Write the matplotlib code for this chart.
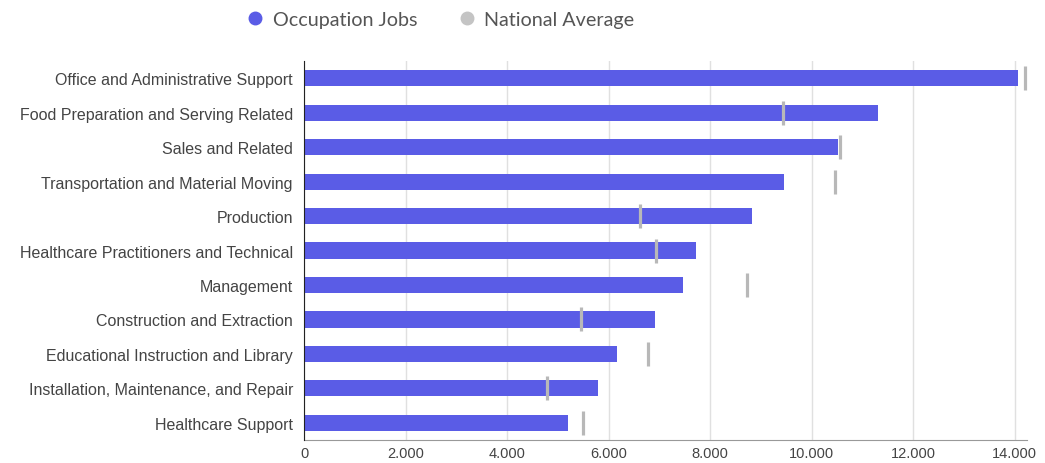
import matplotlib.pyplot as plt
from matplotlib.ticker import FuncFormatter
from matplotlib.lines import Line2D

categories = [
    "Office and Administrative Support",
    "Food Preparation and Serving Related",
    "Sales and Related",
    "Transportation and Material Moving",
    "Production",
    "Healthcare Practitioners and Technical",
    "Management",
    "Construction and Extraction",
    "Educational Instruction and Library",
    "Installation, Maintenance, and Repair",
    "Healthcare Support",
]
occupation_jobs = [14060, 11300, 10530, 9460, 8820, 7720, 7460, 6910, 6170, 5800, 5200]
national_average = [14210, 9430, 10560, 10470, 6610, 6930, 8720, 5450, 6780, 4780, 5500]
xticks = [0, 2000, 4000, 6000, 8000, 10000, 12000, 14000]

bar_color = "#5a5ce6"
avg_color = "#b8b8b8"
text_color = "#444444"

fig = plt.figure(figsize=(10.45, 4.64), dpi=100)
ax = fig.add_axes([0.291, 0.0496, 0.692, 0.8164])

y = list(range(len(categories)))
ax.barh(y, occupation_jobs, height=0.47, color=bar_color, zorder=3)
ax.plot(national_average, y, linestyle="none", marker="|", markersize=17.5,
        markeredgewidth=2.3, color=avg_color, zorder=4)

ax.set_ylim(len(categories) - 0.5, -0.5)
ax.set_xlim(0, 14250)
ax.set_yticks(y)
ax.set_yticklabels(categories, fontsize=11.5, color=text_color, family="Liberation Sans")
ax.set_xticks(xticks)
ax.xaxis.set_major_formatter(FuncFormatter(lambda v, p: f"{int(v):,}".replace(",", ".")))
for lbl in ax.get_xticklabels():
    lbl.set_fontsize(10.5)
    lbl.set_color(text_color)
    lbl.set_family("Liberation Sans")

ax.grid(axis="x", color="#e0e0e0", linewidth=1, zorder=0)
ax.tick_params(axis="y", length=0, pad=8)
ax.tick_params(axis="x", length=0, pad=4)
for s in ["top", "right"]:
    ax.spines[s].set_visible(False)
ax.spines["left"].set_color("#222222")
ax.spines["left"].set_zorder(5)
ax.spines["bottom"].set_color("#999999")

handles = [
    Line2D([], [], linestyle="none", marker="o", markersize=9, color=bar_color),
    Line2D([], [], linestyle="none", marker="o", markersize=9, color="#c4c4c4"),
]
fig.legend(handles, ["Occupation Jobs", "National Average"], loc="center",
           bbox_to_anchor=(0.421, 0.955), ncol=2, frameon=False,
           prop={"family": "Lato", "size": 14.2}, labelcolor="#555555",
           handlelength=1.0, handletextpad=0.4, columnspacing=2.0)

fig.savefig("out.png", dpi=100)
